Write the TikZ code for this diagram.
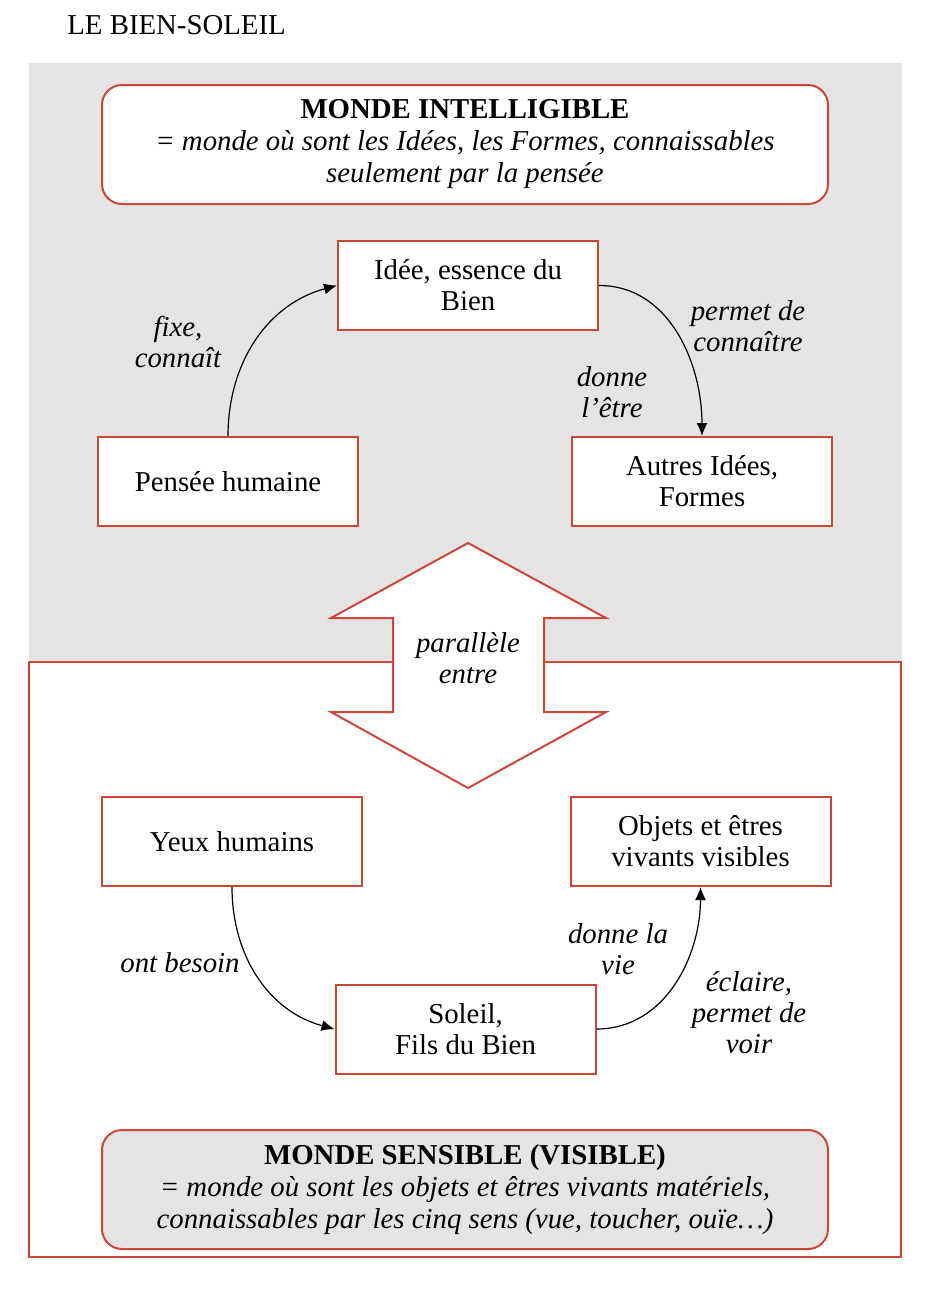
\documentclass[tikz,border=0pt]{standalone}
\usepackage{fontspec}
\setmainfont{Liberation Serif}
\usepackage{tikz}
\usetikzlibrary{positioning,arrows.meta,shapes,calc}

\definecolor{redline}{RGB}{205,70,58}
\definecolor{graybg}{RGB}{229,227,227}

\begin{document}
\fontsize{14.4pt}{15.5pt}\selectfont
\begin{tikzpicture}[x=0.5pt, y=0.5pt, >={Latex[length=6.5pt,width=5.5pt]},
  every node/.style={align=center},
  box/.style={draw=redline, line width=1pt, fill=white, minimum width=130pt, minimum height=44.5pt, inner sep=2pt},
  world/.style={draw=redline, line width=1pt, rounded corners=10pt, minimum width=363pt, minimum height=59.5pt, inner sep=2pt,
    font=\fontsize{14.4pt}{16pt}\selectfont},
  verb/.style={font=\itshape, inner sep=0pt}]
\useasboundingbox (0,0) rectangle (936,-1297);

% backgrounds
\fill[graybg] (29,-63) rectangle (902,-662);
\draw[redline, line width=1pt] (29,-662) rectangle (901,-1257);

\node[anchor=west, inner sep=0pt] (title) at (67,-25) {LE BIEN-SOLEIL};

% monde intelligible
\node[world, fill=white] (intel) at (465,-144.5) {\textbf{MONDE INTELLIGIBLE}\\\textit{= monde où sont les Idées, les Formes, connaissables}\\\textit{seulement par la pensée}};
\node[box] (idee) at (468,-285.5) {Idée, essence du\\Bien};
\node[box] (pensee) at (228,-481.5) {Pensée humaine};
\node[box] (autres) at (702,-481.5) {Autres Idées,\\Formes};

% double fleche
\draw[redline, line width=1pt, fill=white] (468,-543) -- (606,-618) -- (544,-618) -- (544,-712) -- (606,-712) -- (468,-788)
  -- (331,-712) -- (393,-712) -- (393,-618) -- (331,-618) -- cycle;
\node[verb] (parallele) at (468,-658) {parallèle\\entre};

% monde sensible
\node[box] (yeux) at (232,-841.5) {Yeux humains};
\node[box] (objets) at (700.5,-841.5) {Objets et êtres\\vivants visibles};
\node[box] (soleil) at (465.5,-1029) {Soleil,\\Fils du Bien};
\node[world, fill=graybg] (sensible) at (465,-1189.5) {\textbf{MONDE SENSIBLE (VISIBLE)}\\\textit{= monde où sont les objets et êtres vivants matériels,}\\\textit{connaissables par les cinq sens (vue, toucher, ouïe\ldots)}};

\path[->, line width=0.6pt]
(pensee.north) edge[out=90, in=195] (idee.west)
(idee.east) edge[out=0, in=90] (autres.north)
(yeux.south) edge[out=-90, in=165] (soleil.west)
(soleil.east) edge[out=0, in=-90] (objets.south);

% Verbes
\node[verb] (fixe) at (178,-341.5) {fixe,\\connaît};
\node[verb] (permet) at (748,-326) {permet de\\connaître};
\node[verb] (donne) at (612,-392) {donne\\l’être};
\node[verb] (besoin) at (180,-963) {ont besoin};
\node[verb] (vie) at (618,-949.5) {donne la\\vie};
\node[verb] (eclaire) at (749,-1012.5) {éclaire,\\permet de\\voir};
\end{tikzpicture}
\end{document}
